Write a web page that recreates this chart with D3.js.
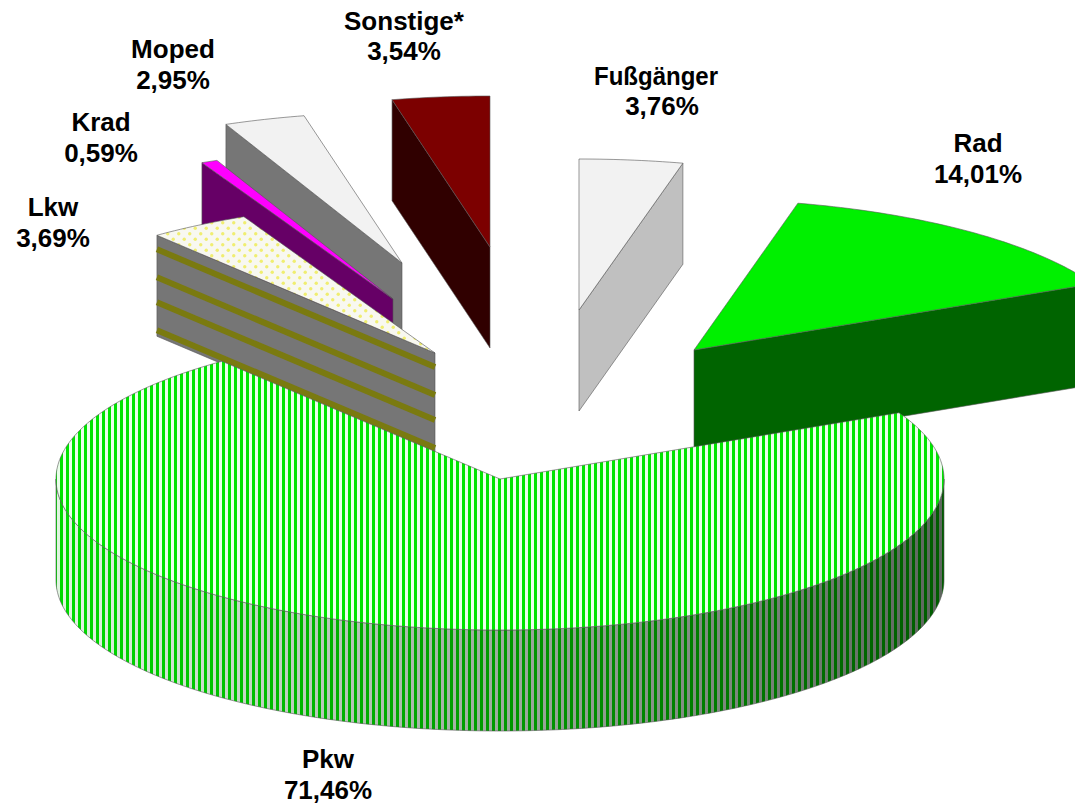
<!DOCTYPE html>
<html><head><meta charset="utf-8">
<style>html,body{margin:0;padding:0;background:#fff;overflow:hidden}svg{display:block}
text{font-family:"Liberation Sans",Arial,sans-serif;font-weight:700;font-size:26px;fill:#000;text-anchor:middle}</style>
<script src="https://cdn.jsdelivr.net/npm/d3@7"></script></head><body><svg id="c" width="1075" height="807"></svg>
<script>
const categories=["Pkw","Lkw","Krad","Moped","Sonstige*","Fußgänger","Rad"];
const values=[71.46,3.69,0.59,2.95,3.54,3.76,14.01];
const valueLabels=["71,46%","3,69%","0,59%","2,95%","3,54%","3,76%","14,01%"];
const apexX=[500,435,393,402,490,579,694];
const apexY=[479,353,299,263,247,310,350];
const labelX=[328,53,101,173,404,656,978];
const valueX=[328,53,101,173,404,662,978];
const labelY=[768,216,131,58,30,85,152];
const valueY=[799,247,162,89,60,115,183];
const topFill=["url(#pkwTop)","url(#lkwTop)","#ff00ff","#f2f2f2","#7c0000","#f2f2f2","#00f000"];
const sideFill=["none","#767676","#660066","#767676","#300000","#c0c0c0","#006400"];
const drawOrder=[4,3,2,1,5,6,0];
const lkwBands=[14,42,67,95];
const startDeg=63.97, RX=444, RY=151, DEPTH=101;

const svg=d3.select("#c"), defs=svg.append("defs");
const xS=d3.scaleLinear().domain([-1,1]).range([-RX,RX]);
const yS=d3.scaleLinear().domain([-1,1]).range([RY,-RY]);
const start=startDeg*Math.PI/180;
const arcs=d3.pie().value(d=>d).sort(null).startAngle(start).endAngle(start+2*Math.PI)(values);
const line=d3.line();
const pt=(i,a,dz=0)=>[apexX[i]+xS(Math.sin(a)),apexY[i]+yS(Math.cos(a))+dz];
const arcPts=(i,a0,a1,dz=0)=>{const n=Math.max(2,Math.ceil(Math.abs(a1-a0)*60));
  return d3.range(n+1).map(k=>pt(i,a0+(a1-a0)*k/n,dz));};

const p1=defs.append("pattern").attr("id","pkwTop").attr("patternUnits","userSpaceOnUse").attr("width",6).attr("height",6);
p1.append("rect").attr("width",6).attr("height",6).attr("fill","#eaffea");
p1.append("rect").attr("width",3).attr("height",6).attr("fill","#00e400");
const p2=defs.append("pattern").attr("id","lkwTop").attr("patternUnits","userSpaceOnUse").attr("width",11).attr("height",11);
p2.append("rect").attr("width",11).attr("height",11).attr("fill","#f8f8f0");
[[2.75,2.75],[8.25,8.25]].forEach(c=>p2.append("circle").attr("cx",c[0]).attr("cy",c[1]).attr("r",1.7).attr("fill","#f0ee70"));
const g=defs.append("linearGradient").attr("id","wallShade").attr("gradientUnits","userSpaceOnUse")
  .attr("x1",57).attr("x2",945).attr("y1",0).attr("y2",0);
[[0,0.04],[0.5,0.33],[1,0.6]].forEach(s=>g.append("stop").attr("offset",s[0]).attr("stop-color","#000").attr("stop-opacity",s[1]));

function paint(sel){return sel.attr("stroke","#555").attr("stroke-width",0.6).attr("stroke-linejoin","round");}

drawOrder.forEach(i=>{
  const d=arcs[i], layer=svg.append("g").attr("class","slice");
  const outer=arcPts(i,d.startAngle,d.endAngle);
  const apex=[apexX[i],apexY[i]];
  if(i===0){
    const a0=Math.PI/2, a1=3*Math.PI/2;
    const wall=[...arcPts(0,a0,a1),...arcPts(0,a1,a0,DEPTH)];
    layer.append("path").attr("d",line(wall)+"Z").attr("fill","url(#pkwTop)");
    paint(layer.append("path").attr("d",line(wall)+"Z").attr("fill","url(#wallShade)"));
  }else{
    const a=(d.startAngle+d.endAngle)/2;
    const edgeA=Math.sin(a)<0?d.startAngle:d.endAngle;
    const e=pt(i,edgeA);
    const wall=[apex,e,[e[0],e[1]+DEPTH],[apex[0],apex[1]+DEPTH]];
    paint(layer.append("path").attr("d",line(wall)+"Z").attr("fill",sideFill[i]));
    if(categories[i]==="Lkw"){
      lkwBands.forEach(b=>layer.append("path").attr("d",line([[e[0],e[1]+b],[apex[0],apex[1]+b]]))
        .attr("stroke","#7a7a10").attr("stroke-width",6).attr("fill","none"));
    }
  }
  paint(layer.append("path").attr("d",line([apex,...outer])+"Z").attr("fill",topFill[i]));
});

const labels=svg.append("g");
categories.forEach((c,i)=>{
  const t=labels.append("text").attr("x",labelX[i]).attr("y",labelY[i]).text(c);
  if(c==="Fußgänger") t.attr("textLength",124).attr("lengthAdjust","spacingAndGlyphs");
  labels.append("text").attr("x",valueX[i]).attr("y",valueY[i]).text(valueLabels[i]);
});
</script></body></html>
